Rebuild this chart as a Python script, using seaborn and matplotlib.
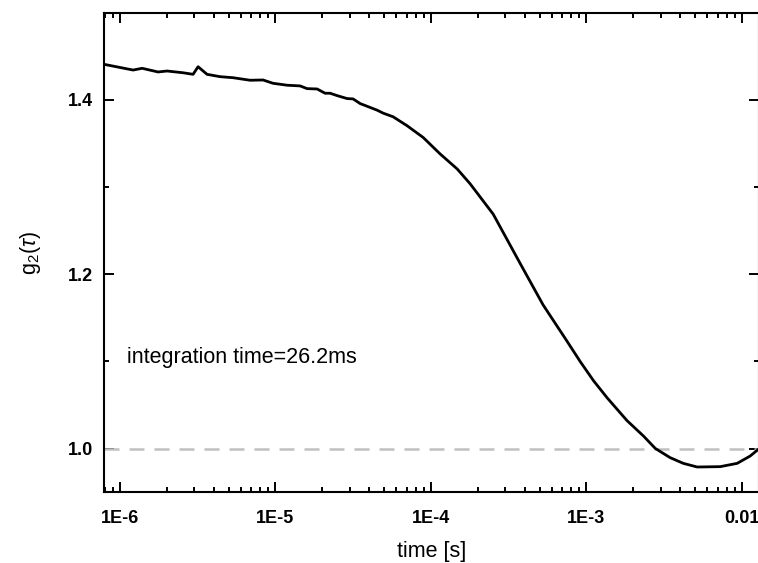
import matplotlib
matplotlib.use('Agg')
import matplotlib.pyplot as plt
import matplotlib.ticker as mticker
import numpy as np
import pandas as pd
import seaborn as sns

# Correlation curve (time in s, g2 value)
time_s = [7.92e-7, 1.213e-6, 1.387e-6, 1.756e-6, 2.006e-6, 2.543e-6, 2.95e-6,
          3.177e-6, 3.628e-6, 4.40e-6, 5.34e-6, 6.86e-6, 8.32e-6, 9.65e-6,
          1.188e-5, 1.44e-5, 1.597e-5, 1.852e-5, 2.085e-5, 2.246e-5, 2.49e-5,
          2.888e-5, 3.157e-5, 3.50e-5, 4.505e-5, 4.925e-5, 5.71e-5, 7.03e-5,
          8.91e-5, 1.146e-4, 1.475e-4, 1.788e-4, 2.514e-4, 3.75e-4, 5.27e-4,
          7.41e-4, 9.12e-4, 1.111e-3, 1.356e-3, 1.823e-3, 2.333e-3, 2.775e-3,
          3.46e-3, 4.2e-3, 5.16e-3, 7.26e-3, 9.34e-3, 1.132e-2, 1.275e-2]
g2 = [1.4407, 1.4342, 1.4362, 1.4320, 1.4331, 1.4311, 1.4293,
      1.4380, 1.4293, 1.4266, 1.4254, 1.4225, 1.4228, 1.4190,
      1.4168, 1.4160, 1.4129, 1.4125, 1.4076, 1.4076, 1.4049,
      1.4015, 1.4011, 1.3958, 1.3882, 1.3848, 1.3806, 1.3703,
      1.3569, 1.3380, 1.3208, 1.3037, 1.2690, 1.2124, 1.1648,
      1.1248, 1.1000, 1.0780, 1.0586, 1.0323, 1.0144, 1.0003,
      0.9897, 0.9832, 0.9790, 0.9794, 0.9832, 0.9916, 0.9992]

x_ticks = [1e-6, 1e-5, 1e-4, 1e-3, 1e-2]
x_ticklabels = ['1E-6', '1E-5', '1E-4', '1E-3', '0.01']
y_ticks = [1.0, 1.2, 1.4]
y_ticklabels = ['1.0', '1.2', '1.4']

df = pd.DataFrame({'time': time_s, 'g2': g2})

sns.set_style('ticks')
plt.rcParams['font.family'] = ['Liberation Sans', 'DejaVu Sans']
plt.rcParams['mathtext.fontset'] = 'custom'
plt.rcParams['mathtext.rm'] = 'Liberation Sans'
plt.rcParams['mathtext.it'] = 'Liberation Sans:italic'
for key in ['text.color', 'axes.labelcolor', 'xtick.color', 'ytick.color', 'axes.edgecolor']:
    plt.rcParams[key] = 'black'

fig = plt.figure(figsize=(7.58, 5.63), dpi=100)
ax = fig.add_axes([0.1376, 0.1256, 0.8634, 0.8519])

ax.axhline(1.0, color='#c0c0c0', lw=1.8, ls=(0, (6, 4)), zorder=1)
sns.lineplot(data=df, x='time', y='g2', color='black', lw=2, ax=ax, zorder=3)

ax.set_xscale('log')
ax.set_xlim(7.92e-7, 1.285e-2)
ax.set_ylim(0.95, 1.5)

ax.set_xticks(x_ticks)
ax.set_xticklabels(x_ticklabels)
ax.xaxis.set_minor_locator(mticker.LogLocator(base=10, subs=np.arange(2, 10)))
ax.xaxis.set_minor_formatter(mticker.NullFormatter())
ax.set_yticks(y_ticks)
ax.set_yticklabels(y_ticklabels)
ax.yaxis.set_minor_locator(mticker.MultipleLocator(0.1))

ax.tick_params(which='both', direction='in', top=True, right=True, width=1.4)
ax.tick_params(which='major', length=7)
ax.tick_params(which='minor', length=3.6)
ax.tick_params(axis='x', which='major', pad=13)
ax.tick_params(axis='y', which='major', pad=8)
for lab in ax.get_xticklabels() + ax.get_yticklabels():
    lab.set_fontweight('bold')
    lab.set_fontsize(13)

for sp in ax.spines.values():
    sp.set_linewidth(1.5)
    sp.set_visible(True)

ax.set_xlabel('time [s]', fontsize=15.5, labelpad=10)
ax.set_ylabel(r'g$_2$($\tau$)', fontsize=15.5, labelpad=18)

ax.text(0.035, 0.28, 'integration time=26.2ms', transform=ax.transAxes,
        fontsize=15.5, va='center', ha='left')

fig.savefig('out.png', dpi=100)
